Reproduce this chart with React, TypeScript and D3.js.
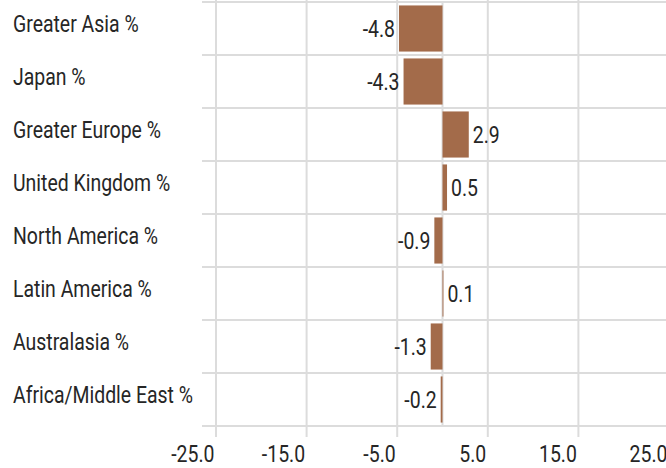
import React from "react";
import * as d3 from "d3";

const categories = [
  "Greater Asia %",
  "Japan %",
  "Greater Europe %",
  "United Kingdom %",
  "North America %",
  "Latin America %",
  "Australasia %",
  "Africa/Middle East %",
];
const values = [-4.8, -4.3, 2.9, 0.5, -0.9, 0.1, -1.3, -0.2];
const tickValues = [-25, -15, -5, 5, 15, 25];

const W = 666;
const H = 468;
const FONT = "Roboto, 'Liberation Sans', sans-serif";
const FS = 24;
const SX = 0.81;
const TEXT = "#262626";
const GRID = "#dcdcdc";
const BAR = "#a36b4a";

const fmt = (v: number) => v.toFixed(1);

export default function App() {
  const x = d3.scaleLinear().domain([-25, 25]).range([216, 669]);
  const rows = d3.scaleBand<string>().domain(categories).range([2, 426]);
  const bars = d3
    .scaleBand<string>()
    .domain(categories)
    .range([2, 426])
    .paddingInner(0.13)
    .paddingOuter(0.065);
  const step = rows.step();
  const lineYs = d3.range(categories.length + 1).map((i) => 2 + i * step);

  return (
    <svg
      width={W}
      height={H}
      style={{ position: "absolute", left: 0, top: 0, background: "#fff" }}
      fontFamily={FONT}
      fontSize={FS}
    >
      {tickValues.map((t) => (
        <line key={"g" + t} x1={x(t)} x2={x(t)} y1={0} y2={437} stroke={GRID} strokeWidth={2} />
      ))}
      {lineYs.map((y, i) => (
        <line key={"h" + i} x1={202} x2={W} y1={y} y2={y} stroke={GRID} strokeWidth={2} />
      ))}
      <line x1={x(0)} x2={x(0)} y1={2} y2={426} stroke={GRID} strokeWidth={2} />
      {categories.map((c, i) => {
        const v = values[i];
        const x0 = x(Math.min(0, v));
        const x1 = x(Math.max(0, v));
        return (
          <rect key={"b" + c} x={x0} y={bars(c)!} width={x1 - x0} height={bars.bandwidth()} fill={BAR} />
        );
      })}
      {categories.map((c) => (
        <text
          key={"c" + c}
          transform={`translate(13,${rows(c)! + 30}) scale(${SX},1)`}
          fill={TEXT}
        >
          {c}
        </text>
      ))}
      {categories.map((c, i) => {
        const v = values[i];
        const neg = v < 0;
        const xe = x(v) + (neg ? -4 : 4);
        return (
          <text
            key={"v" + c}
            transform={`translate(${xe},${rows(c)! + 34.5}) scale(${SX},1)`}
            textAnchor={neg ? "end" : "start"}
            fill={TEXT}
          >
            {fmt(v)}
          </text>
        );
      })}
      {tickValues.map((t) => (
        <text
          key={"t" + t}
          transform={`translate(${x(t) - 1.5},461.5) scale(${SX},1)`}
          textAnchor="end"
          fill={TEXT}
        >
          {fmt(t)}
        </text>
      ))}
    </svg>
  );
}
